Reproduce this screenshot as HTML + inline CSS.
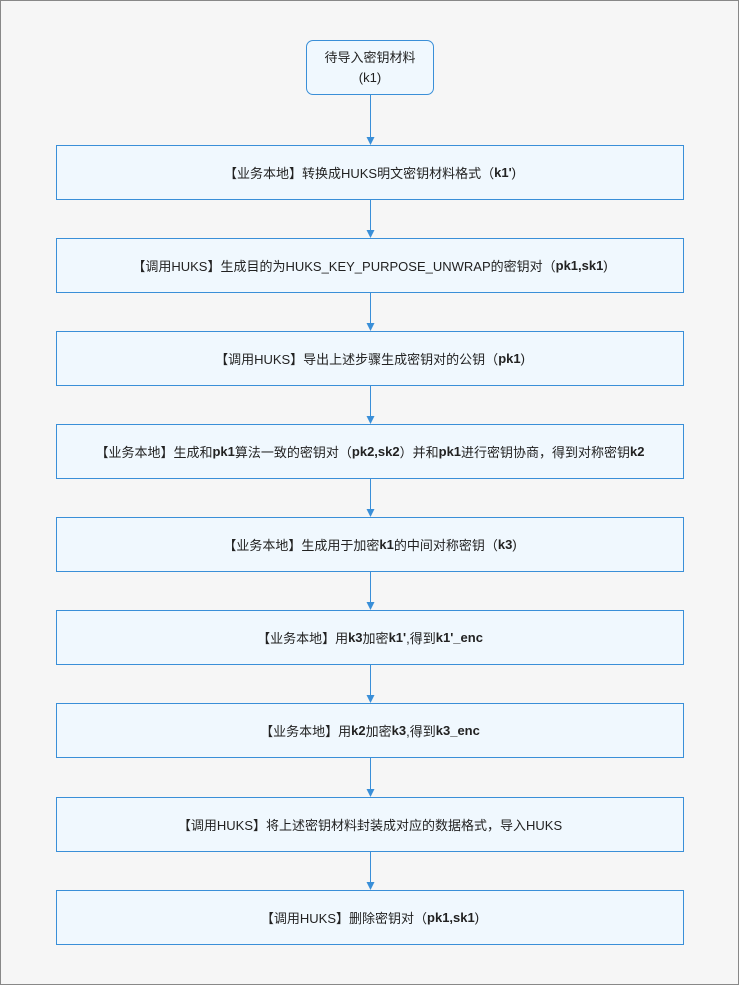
<!DOCTYPE html>
<html><head><meta charset="utf-8"><style>
body{margin:0;width:739px;height:985px;background:#f6f6f6;position:relative;overflow:hidden;font-family:"Liberation Sans","Noto Sans CJK SC",sans-serif;color:#222;}
.frame{position:absolute;left:0;top:0;width:737px;height:983px;border:1px solid #888;}
.b{position:absolute;left:56px;width:626px;height:53px;background:#f0f8fe;border:1px solid #3a8fd8;display:flex;align-items:center;justify-content:center;font-size:13px;white-space:nowrap;}
.t{left:306px;width:126px;top:40px;border-radius:7px;flex-direction:column;line-height:20px;}
b{font-weight:bold}
svg{position:absolute;left:0;top:0}
</style></head><body>
<div class="frame"></div>
<svg width="739" height="985">
<g stroke="#3a8fd8" stroke-width="1">
<line x1="370.5" y1="95" x2="370.5" y2="138"/>
<line x1="370.5" y1="200" x2="370.5" y2="231"/>
<line x1="370.5" y1="293" x2="370.5" y2="324"/>
<line x1="370.5" y1="386" x2="370.5" y2="417"/>
<line x1="370.5" y1="479" x2="370.5" y2="510"/>
<line x1="370.5" y1="572" x2="370.5" y2="603"/>
<line x1="370.5" y1="665" x2="370.5" y2="696"/>
<line x1="370.5" y1="758" x2="370.5" y2="790"/>
<line x1="370.5" y1="852" x2="370.5" y2="883"/>
</g>
<g fill="#3a8fd8">
<polygon points="366.5,137 374.5,137 370.5,145"/>
<polygon points="366.5,230 374.5,230 370.5,238"/>
<polygon points="366.5,323 374.5,323 370.5,331"/>
<polygon points="366.5,416 374.5,416 370.5,424"/>
<polygon points="366.5,509 374.5,509 370.5,517"/>
<polygon points="366.5,602 374.5,602 370.5,610"/>
<polygon points="366.5,695 374.5,695 370.5,703"/>
<polygon points="366.5,789 374.5,789 370.5,797"/>
<polygon points="366.5,882 374.5,882 370.5,890"/>
</g></svg>
<div class="b t"><div>待导入密钥材料</div><div>(k1)</div></div>
<div class="b" style="top:145px">【业务本地】转换成HUKS明文密钥材料格式（<b>k1'</b>)</div>
<div class="b" style="top:238px">【调用HUKS】生成目的为HUKS_KEY_PURPOSE_UNWRAP的密钥对（<b>pk1,sk1</b>)</div>
<div class="b" style="top:331px">【调用HUKS】导出上述步骤生成密钥对的公钥（<b>pk1</b>)</div>
<div class="b" style="top:424px">【业务本地】生成和<b>pk1</b>算法一致的密钥对（<b>pk2,sk2</b>）并和<b>pk1</b>进行密钥协商，得到对称密钥<b>k2</b></div>
<div class="b" style="top:517px">【业务本地】生成用于加密<b>k1</b>的中间对称密钥（<b>k3</b>)</div>
<div class="b" style="top:610px">【业务本地】用<b>k3</b>加密<b>k1'</b>,得到<b>k1'_enc</b></div>
<div class="b" style="top:703px">【业务本地】用<b>k2</b>加密<b>k3</b>,得到<b>k3_enc</b></div>
<div class="b" style="top:797px">【调用HUKS】将上述密钥材料封装成对应的数据格式，导入HUKS</div>
<div class="b" style="top:890px">【调用HUKS】删除密钥对（<b>pk1,sk1</b>)</div>
</body></html>
